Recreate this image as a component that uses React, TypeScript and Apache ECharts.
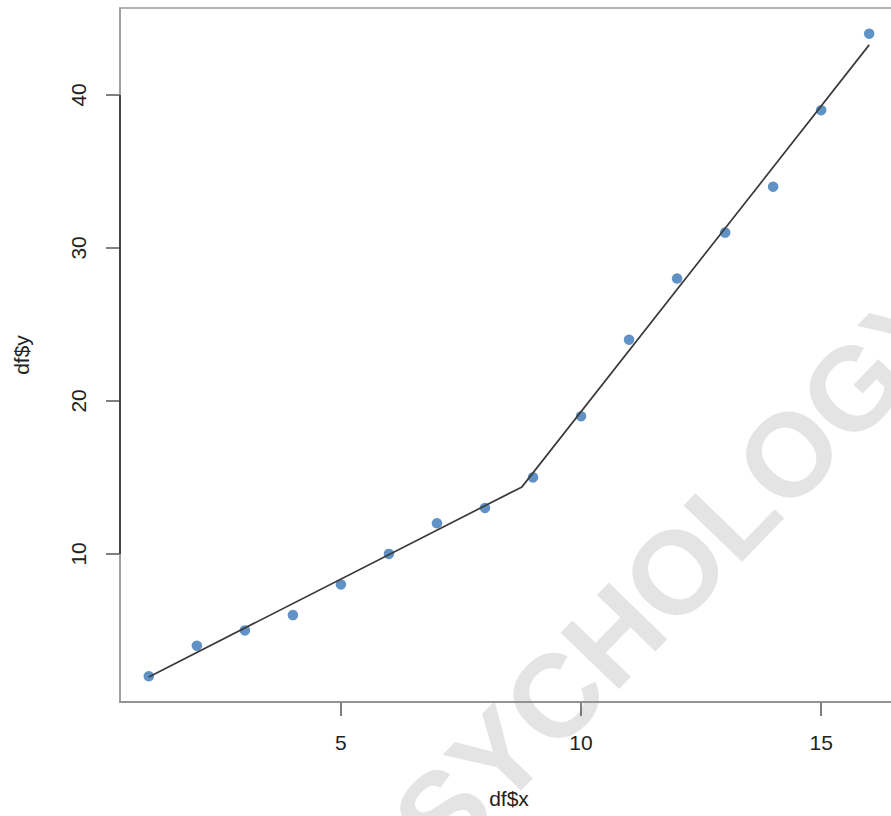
import React, { useEffect, useRef } from "react";
import * as echarts from "echarts";

const xValues = [1, 2, 3, 4, 5, 6, 7, 8, 9, 10, 11, 12, 13, 14, 15, 16];
const yValues = [2, 4, 5, 6, 8, 10, 12, 13, 15, 19, 24, 28, 31, 34, 39, 44];
const fitX = [1, 8.77, 16];
const fitY = [1.96, 14.38, 43.27];
const xTicks = [5, 10, 15];
const yTicks = [10, 20, 30, 40];
const xRange = [0.4, 16.6];
const yRange = [0.32, 45.68];
const xTitle = "df$x";
const yTitle = "df$y";
const watermark = "PSYCHOLOGY";

const FONT = "'Liberation Sans', Arial, sans-serif";

export default function App() {
  const ref = useRef<HTMLDivElement>(null);
  useEffect(() => {
    if (!ref.current) return;
    const chart = echarts.init(ref.current, undefined, { renderer: "svg" });
    const points = xValues.map((x, i) => [x, yValues[i]]);
    const fit = fitX.map((x, i) => [x, fitY[i]]);
    const yAxisSeg = [
      [xRange[0], yTicks[0]],
      [xRange[0], yTicks[yTicks.length - 1]],
    ];
    chart.setOption({
      animation: false,
      backgroundColor: "#ffffff",
      grid: {
        left: 120,
        right: 22,
        top: 8,
        bottom: 114,
        show: true,
        borderColor: "#9a9a9a",
        borderWidth: 1.5,
        backgroundColor: "transparent",
        z: 1,
      },
      graphic: [
        {
          type: "text",
          x: 650,
          y: 598,
          rotation: (46 * Math.PI) / 180,
          z: -10,
          zlevel: 0,
          silent: true,
          style: {
            text: watermark,
            fill: "#e4e4e4",
            font: `bold 118px ${FONT}`,
            textAlign: "center",
            textVerticalAlign: "middle",
          },
        },
      ],
      xAxis: {
        type: "value",
        min: xRange[0],
        max: xRange[1],
        name: xTitle,
        nameLocation: "middle",
        nameGap: 86,
        nameTextStyle: { fontFamily: FONT, fontSize: 21, color: "#222" },
        splitLine: { show: false },
        axisLine: { show: true, lineStyle: { color: "#555", width: 1.5 } },
        axisTick: {
          show: true,
          length: 14,
          customValues: xTicks,
          lineStyle: { color: "#555", width: 1.5 },
        },
        axisLabel: {
          customValues: xTicks,
          margin: 30,
          fontFamily: FONT,
          fontSize: 21,
          color: "#222",
        },
      },
      yAxis: {
        type: "value",
        min: yRange[0],
        max: yRange[1],
        name: yTitle,
        nameLocation: "middle",
        nameRotate: 90,
        nameGap: 88,
        nameTextStyle: { fontFamily: FONT, fontSize: 21, color: "#222" },
        splitLine: { show: false },
        axisLine: { show: true, lineStyle: { color: "#9a9a9a", width: 1.5 } },
        axisTick: {
          show: true,
          length: 14,
          customValues: yTicks,
          lineStyle: { color: "#555", width: 1.5 },
        },
        axisLabel: {
          customValues: yTicks,
          rotate: 90,
          margin: 31,
          fontFamily: FONT,
          fontSize: 21,
          color: "#222",
        },
      },
      series: [
        {
          name: "axis",
          type: "line",
          data: yAxisSeg,
          symbol: "none",
          clip: false,
          silent: true,
          z: 3,
          lineStyle: { color: "#444", width: 2 },
        },
        {
          name: "fit",
          type: "line",
          data: fit,
          symbol: "none",
          z: 4,
          lineStyle: { color: "#3a3a3a", width: 1.7 },
        },
        {
          name: "points",
          type: "scatter",
          data: points,
          symbol: "circle",
          symbolSize: 10.5,
          clip: false,
          z: 3,
          itemStyle: { color: "#3977b6" },
        },
      ],
    });
    return () => chart.dispose();
  }, []);
  return (
    <div
      style={{
        position: "fixed",
        left: 0,
        top: 0,
        width: 891,
        height: 816,
        overflow: "hidden",
        background: "#fff",
      }}
    >
      <div ref={ref} style={{ width: 920, height: 816 }} />
    </div>
  );
}
